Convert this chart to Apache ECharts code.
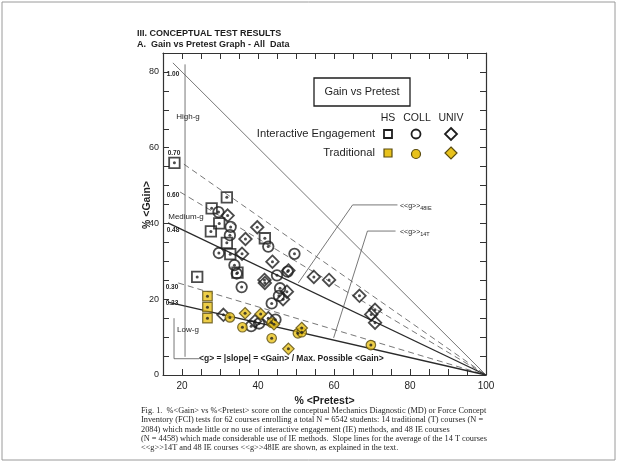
<!DOCTYPE html>
<html>
<head>
<meta charset="utf-8">
<script src="https://cdn.jsdelivr.net/npm/echarts@6/dist/echarts.min.js"></script>
<style>
html, body { margin: 0; padding: 0; background: #ffffff; }
#main { width: 618px; height: 463px; }
</style>
</head>
<body>
<div id="main"></div>
<script>
// values: [% pretest, % gain]
var ieHS = [[18, 56], [31.8, 46.9], [27.8, 44.0], [29.8, 40.0], [27.6, 37.9], [31.8, 34.9],
    [32.7, 31.9], [24, 25.9], [41.8, 36.1], [34.6, 27.0]];
var ieCOLL = [[29.6, 43.0], [32.8, 39.1], [32.6, 36.9], [29.7, 32.2], [33.8, 29.0], [34.4, 26.8],
    [35.7, 23.2], [42.7, 33.9], [49.6, 32.0], [45.0, 26.3], [47.8, 27.3], [45.8, 22.9],
    [45.5, 20.9], [43.6, 18.9], [38.2, 12.9], [40.3, 13.6], [44.6, 14.6]];
var ieUNIV = [[32.0, 42.1], [39.8, 39.0], [36.7, 35.9], [35.8, 32.0], [43.8, 29.9], [41.7, 25.1],
    [54.7, 25.9], [58.7, 25.1], [66.7, 20.9], [70.8, 17.2], [69.8, 16.0], [70.8, 13.8],
    [30.9, 15.9], [39.2, 14.2], [47.6, 22.0], [46.6, 20.0], [41.8, 24.3], [48.0, 27.6], [42.7, 15.0]];
var tHS = [[26.7, 20.8], [26.7, 17.9], [26.7, 15.0]];
var tCOLL = [[32.6, 15.2], [35.9, 12.6], [43.6, 9.7], [50.5, 11.0], [51.5, 11.3], [69.7, 7.9], [43.6, 13.8]];
var tUNIV = [[36.6, 16.3], [40.7, 16.1], [48.0, 6.9], [51.5, 12.4], [44.2, 13.4]];

// slope lines <g> and the pretest where each one starts
var gSlopes = [1.00, 0.70, 0.60, 0.48, 0.30, 0.23];
var gStarts = [17.6, 20.5, 19.5, 16.3, 19.0, 16.3];
var gLabels = ['1.00', '0.70', '0.60', '0.48', '0.30', '0.23'];

var xLabels = [20, 40, 60, 80, 100];
var yLabels = [0, 20, 40, 60, 80];

var myChart = echarts.init(document.getElementById('main'));

var YELLOW = '#e8c21c';
var OLIVE = '#5a4c10';
var INK = '#1e1e1e';

function marks(name, data, symbol, size, filled) {
    return {
        name: name,
        type: 'scatter',
        data: data,
        symbol: symbol,
        symbolSize: size,
        z: filled ? 4 : 3,
        itemStyle: {
            color: filled ? YELLOW : 'rgba(255,255,255,0)',
            borderColor: filled ? OLIVE : INK,
            borderWidth: filled ? 1.2 : 1.8
        }
    };
}

var lineSeries = gSlopes.map(function (g, i) {
    var dashed = (g === 0.70 || g === 0.60 || g === 0.30);
    var heavy = (g === 0.48 || g === 0.23);
    return {
        type: 'line',
        data: [[gStarts[i], g * (100 - gStarts[i])], [100, 0]],
        symbol: 'none',
        silent: true,
        z: 2,
        lineStyle: {
            color: heavy ? '#2a2a2a' : '#777777',
            width: heavy ? 1.3 : 1,
            type: dashed ? [6, 4] : 'solid'
        }
    };
});

function guide(points) {
    return {
        type: 'line',
        data: points,
        symbol: 'none',
        silent: true,
        z: 2,
        lineStyle: { color: '#555555', width: 0.8 }
    };
}

var allPoints = ieHS.concat(ieCOLL, ieUNIV, tHS, tCOLL, tUNIV);

var option = {
    backgroundColor: '#ffffff',
    animation: false,
    grid: { left: 163, top: 53, right: 132, bottom: 88, outerBoundsMode: 'none' },
    xAxis: [{
        type: 'value', min: 15, max: 100, interval: 5, position: 'bottom',
        axisLine: { show: true, onZero: false, lineStyle: { color: '#333', width: 1.2 } },
        axisTick: { inside: true, length: 6, lineStyle: { color: '#333' } },
        axisLabel: {
            color: INK, fontSize: 10, margin: 6, fontFamily: 'Liberation Sans',
            formatter: function (v) { return xLabels.indexOf(v) >= 0 ? v : ''; }
        },
        splitLine: { show: false },
        name: '% <Pretest>', nameLocation: 'middle', nameGap: 15,
        nameTextStyle: { color: INK, fontSize: 10.5, fontWeight: 'bold', fontFamily: 'Liberation Sans' }
    }, {
        type: 'value', min: 15, max: 100, interval: 5, position: 'top',
        axisLine: { show: true, onZero: false, lineStyle: { color: '#333', width: 1.2 } },
        axisTick: { inside: true, length: 6, lineStyle: { color: '#333' } },
        axisLabel: { show: false },
        splitLine: { show: false }
    }],
    yAxis: [{
        type: 'value', min: 0, max: 85, interval: 5, position: 'left',
        axisLine: { show: true, onZero: false, lineStyle: { color: '#333', width: 1.2 } },
        axisTick: { inside: true, length: 6, lineStyle: { color: '#333' } },
        axisLabel: {
            color: INK, fontSize: 9, margin: 4, fontFamily: 'Liberation Sans',
            formatter: function (v) { return yLabels.indexOf(v) >= 0 ? v : ''; }
        },
        splitLine: { show: false }
    }, {
        type: 'value', min: 0, max: 85, interval: 5, position: 'right',
        axisLine: { show: true, onZero: false, lineStyle: { color: '#333', width: 1.2 } },
        axisTick: { inside: true, length: 6, lineStyle: { color: '#333' } },
        axisLabel: { show: false },
        splitLine: { show: false }
    }],
    series: lineSeries.concat([
        guide([[20.8, 82], [20.8, 4.8]]),
        guide([[17.9, 15], [17.9, 4.3], [24.5, 4.3]]),
        guide([[76.7, 44.9], [64.9, 44.9], [50.6, 24.3]]),
        guide([[76.2, 38.0], [68.8, 38.0], [59.9, 9.8]]),
        marks('IE HS', ieHS, 'rect', 10.5, false),
        marks('IE COLL', ieCOLL, 'circle', 10.5, false),
        marks('IE UNIV', ieUNIV, 'diamond', 12.5, false),
        marks('T HS', tHS, 'rect', 9.5, true),
        marks('T COLL', tCOLL, 'circle', 9.5, true),
        marks('T UNIV', tUNIV, 'diamond', 11.5, true),
        {
            type: 'scatter', data: allPoints, symbol: 'circle', symbolSize: 3, z: 5, silent: true,
            itemStyle: { color: INK }
        }
    ]),
    graphic: [
        { type: 'rect', shape: { x: 2, y: 2, width: 613, height: 458 }, style: { fill: null, stroke: '#9a9a9a', lineWidth: 1 }, silent: true },
        { type: 'text', left: 137, top: 29, style: { text: 'III. CONCEPTUAL TEST RESULTS', fill: INK, font: 'bold 9px "Liberation Sans"' } },
        { type: 'text', left: 137, top: 40, style: { text: 'A.  Gain vs Pretest Graph - All  Data', fill: INK, font: 'bold 9px "Liberation Sans"' } },
        { type: 'text', x: 147, y: 205, rotation: Math.PI / 2, style: { text: '% <Gain>', fill: INK, font: 'bold 10.5px "Liberation Sans"', align: 'center', verticalAlign: 'middle' } },
        // legend box
        { type: 'rect', shape: { x: 314, y: 78, width: 96, height: 28 }, style: { fill: '#fff', stroke: INK, lineWidth: 1.3 } },
        { type: 'text', x: 362, y: 92, style: { text: 'Gain vs Pretest', fill: INK, font: '11px "Liberation Sans"', align: 'center', verticalAlign: 'middle' } },
        { type: 'text', x: 388, y: 118, style: { text: 'HS', fill: INK, font: '10.5px "Liberation Sans"', align: 'center', verticalAlign: 'middle' } },
        { type: 'text', x: 417, y: 118, style: { text: 'COLL', fill: INK, font: '10.5px "Liberation Sans"', align: 'center', verticalAlign: 'middle' } },
        { type: 'text', x: 451, y: 118, style: { text: 'UNIV', fill: INK, font: '10.5px "Liberation Sans"', align: 'center', verticalAlign: 'middle' } },
        { type: 'text', x: 375, y: 134, style: { text: 'Interactive Engagement', fill: INK, font: '11.2px "Liberation Sans"', align: 'right', verticalAlign: 'middle' } },
        { type: 'text', x: 375, y: 153, style: { text: 'Traditional', fill: INK, font: '11.2px "Liberation Sans"', align: 'right', verticalAlign: 'middle' } },
        { type: 'rect', shape: { x: 384, y: 130, width: 8, height: 8 }, style: { fill: '#fff', stroke: INK, lineWidth: 1.8 } },
        { type: 'circle', shape: { cx: 416, cy: 134, r: 4.5 }, style: { fill: '#fff', stroke: INK, lineWidth: 1.8 } },
        { type: 'polygon', shape: { points: [[451, 128], [457, 134], [451, 140], [445, 134]] }, style: { fill: '#fff', stroke: INK, lineWidth: 1.8 } },
        { type: 'rect', shape: { x: 384, y: 149, width: 8, height: 8 }, style: { fill: YELLOW, stroke: OLIVE, lineWidth: 1.2 } },
        { type: 'circle', shape: { cx: 416, cy: 154, r: 4.5 }, style: { fill: YELLOW, stroke: OLIVE, lineWidth: 1.2 } },
        { type: 'polygon', shape: { points: [[451, 147], [457, 153], [451, 159], [445, 153]] }, style: { fill: YELLOW, stroke: OLIVE, lineWidth: 1.2 } },
        // slope labels
        { type: 'text', x: 173, y: 74, style: { text: gLabels[0], fill: INK, font: 'bold 6.5px "Liberation Sans"', align: 'center', verticalAlign: 'middle' } },
        { type: 'text', x: 174, y: 153, style: { text: gLabels[1], fill: INK, font: 'bold 6.5px "Liberation Sans"', align: 'center', verticalAlign: 'middle' } },
        { type: 'text', x: 173, y: 195, style: { text: gLabels[2], fill: INK, font: 'bold 6.5px "Liberation Sans"', align: 'center', verticalAlign: 'middle' } },
        { type: 'text', x: 173, y: 230, style: { text: gLabels[3], fill: INK, font: 'bold 6.5px "Liberation Sans"', align: 'center', verticalAlign: 'middle' } },
        { type: 'text', x: 172, y: 287, style: { text: gLabels[4], fill: INK, font: 'bold 6.5px "Liberation Sans"', align: 'center', verticalAlign: 'middle' } },
        { type: 'text', x: 172, y: 303, style: { text: gLabels[5], fill: INK, font: 'bold 6.5px "Liberation Sans"', align: 'center', verticalAlign: 'middle' } },
        { type: 'text', x: 188, y: 117, style: { text: 'High-g', fill: INK, font: '8px "Liberation Sans"', align: 'center', verticalAlign: 'middle', backgroundColor: '#fff' } },
        { type: 'text', x: 186, y: 217, style: { text: 'Medium-g', fill: INK, font: '8px "Liberation Sans"', align: 'center', verticalAlign: 'middle', backgroundColor: '#fff' } },
        { type: 'text', x: 188, y: 330, style: { text: 'Low-g', fill: INK, font: '8px "Liberation Sans"', align: 'center', verticalAlign: 'middle', backgroundColor: '#fff' } },
        { type: 'text', x: 199, y: 359, style: { text: '<g> = |slope| = <Gain> / Max. Possible <Gain>', fill: INK, font: 'bold 8.5px "Liberation Sans"', verticalAlign: 'middle' } },
        {
            type: 'text', x: 400, y: 206,
            style: { text: '{a|<<g>>}{s|48IE}', verticalAlign: 'middle', rich: { a: { fontSize: 7, fill: INK, fontFamily: 'Liberation Sans' }, s: { fontSize: 5.5, fill: INK, fontFamily: 'Liberation Sans', padding: [4, 0, 0, 0] } } }
        },
        {
            type: 'text', x: 400, y: 232,
            style: { text: '{a|<<g>>}{s|14T}', verticalAlign: 'middle', rich: { a: { fontSize: 7, fill: INK, fontFamily: 'Liberation Sans' }, s: { fontSize: 5.5, fill: INK, fontFamily: 'Liberation Sans', padding: [4, 0, 0, 0] } } }
        },
        // caption
        {
            type: 'text', left: 141, top: 406,
            style: {
                text: 'Fig. 1.  %<Gain> vs %<Pretest> score on the conceptual Mechanics Diagnostic (MD) or Force Concept\n' +
                    'Inventory (FCI) tests for 62 courses enrolling a total N = 6542 students: 14 traditional (T) courses (N =\n' +
                    '2084) which made little or no use of interactive engagement (IE) methods, and 48 IE courses\n' +
                    '(N = 4458) which made considerable use of IE methods.  Slope lines for the average of the 14 T courses\n' +
                    '<<g>>14T and 48 IE courses <<g>>48IE are shown, as explained in the text.',
                fill: INK, font: '8.3px "Liberation Serif"', lineHeight: 9.4
            }
        }
    ]
};

myChart.setOption(option);
</script>
</body>
</html>
